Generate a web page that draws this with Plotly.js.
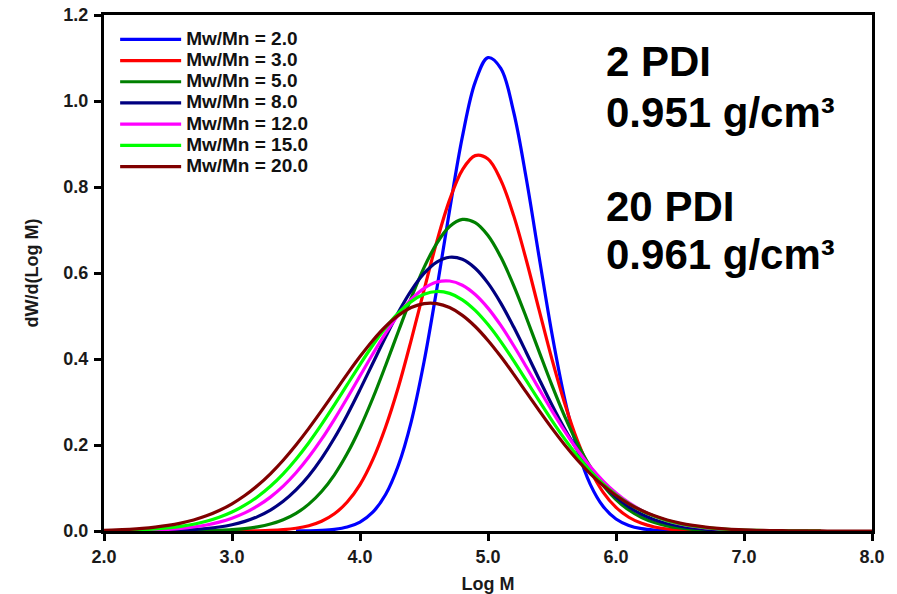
<!DOCTYPE html>
<html>
<head>
<meta charset="utf-8">
<script src="https://cdn.plot.ly/plotly-3.0.1.min.js"></script>
<style>
  html, body { margin: 0; padding: 0; background: #ffffff; }
  #chart { width: 897px; height: 594px; }
</style>
</head>
<body>
<div id="chart"></div>
<script>
// Log M grid shared by all distributions
const logM = [2.0, 2.1, 2.2, 2.3, 2.4, 2.5, 2.6, 2.7, 2.8, 2.9,
              3.0, 3.1, 3.2, 3.3, 3.4, 3.5, 3.6, 3.7, 3.8, 3.9,
              4.0, 4.1, 4.2, 4.3, 4.4, 4.5, 4.6, 4.7, 4.8, 4.9,
              5.0, 5.1, 5.2, 5.3, 5.4, 5.5, 5.6, 5.7, 5.8, 5.9,
              6.0, 6.1, 6.2, 6.3, 6.4, 6.5, 6.6, 6.7, 6.8, 6.9,
              7.0, 7.1, 7.2, 7.3, 7.4, 7.5, 7.6, 7.7, 7.8, 7.9, 8.0];

// dW/d(Log M) for each polydispersity (null = not drawn)
const pdi2 = [null, null, null, null, null, null, null, null, null, null,
              null, null, null, null, null, 0.0002, 0.0005, 0.0014, 0.0038, 0.0092,
              0.0208, 0.0437, 0.0849, 0.153, 0.254, 0.393, 0.563, 0.746, 0.917, 1.044,
              1.101, 1.076, 0.975, 0.818, 0.636, 0.458, 0.306, 0.189, 0.108, 0.057,
              0.028, 0.0129, 0.0054, 0.0021, 0.0008, 0.0003, null, null, null, null,
              null, null, null, null, null, null, null, null, null, null, null];

const pdi3 = [null, null, null, null, null, null, null, null, null, null,
              0.0001, 0.0003, 0.0006, 0.0014, 0.0031, 0.0063, 0.0122, 0.0226, 0.040, 0.0675,
              0.108, 0.166, 0.242, 0.335, 0.444, 0.560, 0.673, 0.770, 0.840, 0.873,
              0.865, 0.816, 0.734, 0.629, 0.513, 0.399, 0.296, 0.209, 0.141, 0.090,
              0.055, 0.032, 0.0178, 0.0094, 0.0047, 0.0023, 0.0010, 0.0005, 0.0002, 0.0001,
              null, null, null, null, null, null, null, null, null, null, null];

const pdi5 = [null, null, null, null, null, 0.0001, 0.0002, 0.0004, 0.0009, 0.0017,
              0.0031, 0.0056, 0.0096, 0.0161, 0.0262, 0.0411, 0.0625, 0.0918, 0.1307, 0.180,
              0.2396, 0.3087, 0.385, 0.4644, 0.542, 0.6125, 0.669, 0.708, 0.7245, 0.717,
              0.687, 0.637, 0.5715, 0.496, 0.4167, 0.3386, 0.266, 0.2025, 0.149, 0.106,
              0.0732, 0.0488, 0.0315, 0.0197, 0.0119, 0.0069, 0.0039, 0.0022, 0.0011, 0.0006,
              0.0003, 0.0001, null, null, null, null, null, null, null, null, null];

const pdi8 = [null, null, 0.0002, 0.0004, 0.0007, 0.0012, 0.0021, 0.0035, 0.0058, 0.0093,
              0.0146, 0.0224, 0.0334, 0.0486, 0.0690, 0.0954, 0.1286, 0.169, 0.2163, 0.270,
              0.3288, 0.390, 0.451, 0.5086, 0.559, 0.599, 0.6254, 0.6367, 0.6318, 0.611,
              0.5764, 0.530, 0.4748, 0.4147, 0.353, 0.293, 0.237, 0.187, 0.1438, 0.1078,
              0.0787, 0.0561, 0.0389, 0.0264, 0.0174, 0.0112, 0.0070, 0.0043, 0.0025, 0.0015,
              0.0008, 0.0005, 0.0002, 0.0001, null, null, null, null, null, null, null];

const pdi12 = [0.0003, 0.0005, 0.0009, 0.0015, 0.0024, 0.0039, 0.0061, 0.0093, 0.0140, 0.0207,
               0.0298, 0.0421, 0.0582, 0.0788, 0.1043, 0.1354, 0.1719, 0.2135, 0.2598, 0.3094,
               0.3607, 0.4117, 0.460, 0.503, 0.5385, 0.5644, 0.579, 0.5814, 0.5716, 0.550,
               0.5183, 0.478, 0.4314, 0.3813, 0.3299, 0.2794, 0.2316, 0.1879, 0.1493, 0.1161,
               0.0884, 0.0659, 0.0481, 0.0343, 0.0240, 0.0164, 0.0110, 0.0072, 0.0046, 0.0029,
               0.0018, 0.0011, 0.0006, 0.0004, 0.0002, 0.0001, null, null, null, null, null];

const pdi15 = [0.0007, 0.0012, 0.0019, 0.0030, 0.0047, 0.0072, 0.0107, 0.0157, 0.0226, 0.0319,
               0.0441, 0.0599, 0.0797, 0.104, 0.133, 0.167, 0.2054, 0.2478, 0.2932, 0.3402,
               0.3871, 0.4319, 0.4726, 0.507, 0.5335, 0.5504, 0.557, 0.5526, 0.5377, 0.513,
               0.480, 0.4405, 0.3963, 0.3496, 0.3025, 0.2567, 0.2136, 0.1742, 0.1394, 0.1094,
               0.0842, 0.0635, 0.0470, 0.0341, 0.0242, 0.0169, 0.0116, 0.0078, 0.0051, 0.0033,
               0.0021, 0.0013, 0.0008, 0.0005, 0.0003, 0.0002, 0.0001, null, null, null, null];

const pdi20 = [0.0017, 0.0026, 0.0040, 0.0060, 0.0089, 0.0129, 0.0184, 0.0257, 0.0353, 0.0477,
               0.0633, 0.0826, 0.1058, 0.1331, 0.1646, 0.200, 0.2386, 0.2798, 0.3223, 0.3648,
               0.4056, 0.4431, 0.4756, 0.5015, 0.5196, 0.5288, 0.5288, 0.5196, 0.5015, 0.4756,
               0.4431, 0.4056, 0.3648, 0.3223, 0.2798, 0.2386, 0.200, 0.1646, 0.1331, 0.1058,
               0.0826, 0.0633, 0.0477, 0.0353, 0.0257, 0.0184, 0.0129, 0.0089, 0.0060, 0.0040,
               0.0026, 0.0017, 0.0011, 0.0007, 0.0004, 0.0002, 0.0001, 0, 0, 0, 0];

const seriesLabels = ['Mw/Mn = 2.0', 'Mw/Mn = 3.0', 'Mw/Mn = 5.0', 'Mw/Mn = 8.0',
                      'Mw/Mn = 12.0', 'Mw/Mn = 15.0', 'Mw/Mn = 20.0'];
const seriesValues = [pdi2, pdi3, pdi5, pdi8, pdi12, pdi15, pdi20];
const seriesColors = ['#0000ff', '#ff0000', '#008000', '#000080', '#ff00ff', '#00ff00', '#800000'];

const xTicks = [2, 3, 4, 5, 6, 7, 8];
const yTicks = [0, 0.2, 0.4, 0.6, 0.8, 1.0, 1.2];

const noteLines = ['2 PDI', '0.951 g/cm³', '20 PDI', '0.961 g/cm³'];
const noteY = [0.909, 0.812, 0.629, 0.536];

const FONT = 'Liberation Sans, Arial, Helvetica, sans-serif';

const traces = seriesValues.map((vals, i) => ({
  type: 'scatter',
  mode: 'lines',
  x: logM,
  y: vals,
  name: '<span style="font-size:19px">' + seriesLabels[i] + '</span>',
  line: { color: seriesColors[i], width: 3.2, shape: 'spline', smoothing: 1 },
  hoverinfo: 'skip'
}));

const axisCommon = {
  showline: true,
  linecolor: '#000000',
  linewidth: 3,
  mirror: true,
  ticks: 'outside',
  ticklen: 7,
  tickwidth: 3,
  tickcolor: '#000000',
  showgrid: false,
  zeroline: false,
  tickformat: '.1f',
  tickfont: { family: FONT, size: 18, color: '#1a1a1a', weight: 'bold' }
};

const layout = {
  width: 897,
  height: 594,
  margin: { l: 104, r: 25, t: 15, b: 63 },
  paper_bgcolor: '#ffffff',
  plot_bgcolor: '#ffffff',
  showlegend: true,
  legend: {
    x: 0.0145, y: 0.983, xanchor: 'left', yanchor: 'top',
    bgcolor: 'rgba(0,0,0,0)',
    borderwidth: 0,
    itemwidth: 61,
    tracegroupgap: 0,
    font: { family: FONT, size: 14, color: '#111111', weight: 'bold' }
  },
  xaxis: Object.assign({}, axisCommon, {
    range: [2, 8],
    tickvals: xTicks,
    title: { text: 'Log M', standoff: 22, font: { family: FONT, size: 18, color: '#1a1a1a', weight: 'bold' } }
  }),
  yaxis: Object.assign({}, axisCommon, {
    range: [0, 1.2],
    tickvals: yTicks,
    ticklabelstandoff: 2,
    title: { text: 'dW/d(Log M)', standoff: 21, font: { family: FONT, size: 18, color: '#1a1a1a', weight: 'bold' } }
  }),
  annotations: noteLines.map((t, i) => ({
    xref: 'paper', yref: 'paper',
    x: 0.651, y: noteY[i],
    xanchor: 'left', yanchor: 'middle',
    align: 'left',
    showarrow: false,
    text: t,
    font: { family: FONT, size: 42, color: '#000000', weight: 'bold' }
  }))
};

Plotly.newPlot('chart', traces, layout, { displayModeBar: false, staticPlot: true });
</script>
</body>
</html>
